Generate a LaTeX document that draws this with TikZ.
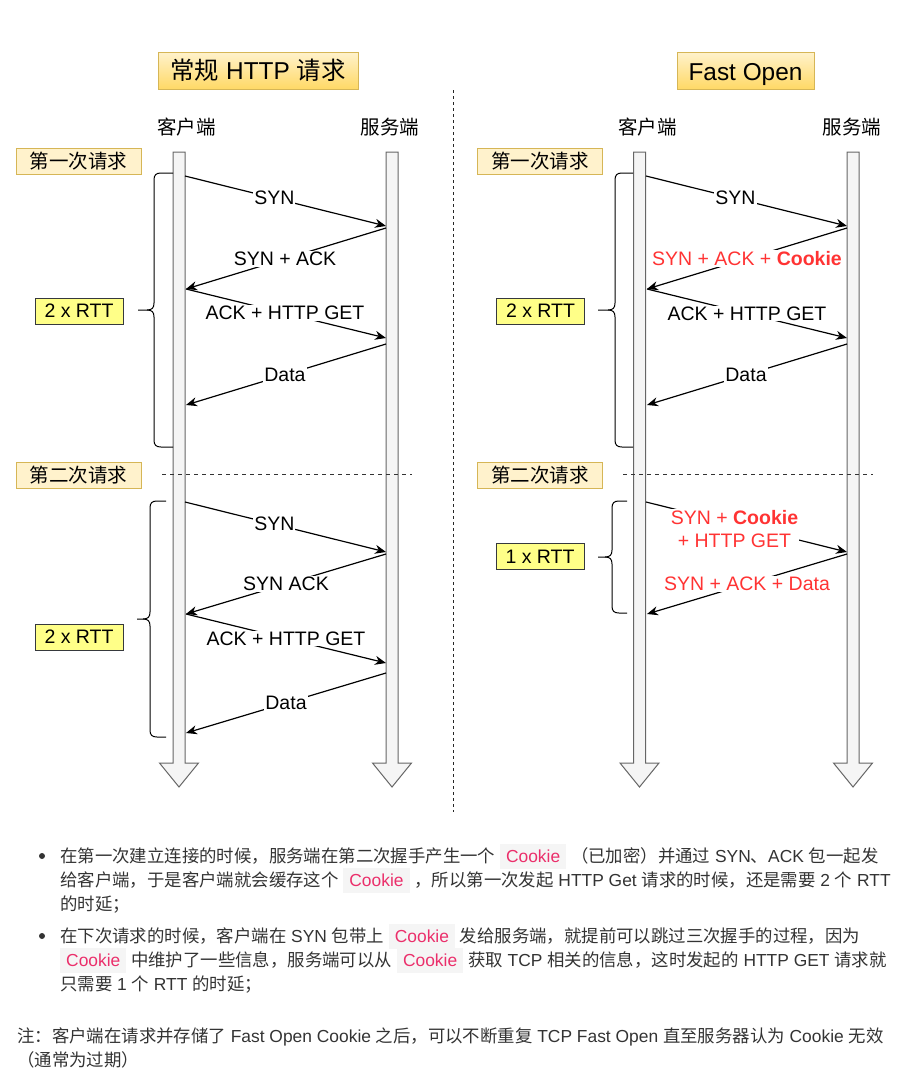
\documentclass[tikz,border=0pt]{standalone}
\usepackage{fontspec}
\setmainfont{Liberation Sans}
\newfontfamily\cjk{Noto Sans CJK SC}
\usetikzlibrary{arrows.meta}
\definecolor{barfill}{HTML}{F5F5F5}
\definecolor{barline}{HTML}{666666}
\definecolor{tfill}{HTML}{FFF2CC}
\definecolor{tgrad}{HTML}{FFD966}
\definecolor{tline}{HTML}{D6B656}
\definecolor{rttfill}{HTML}{FFFF88}
\definecolor{rttline}{HTML}{36393D}
\definecolor{redtxt}{HTML}{FF3333}
\definecolor{codepink}{HTML}{EB2F6B}
\definecolor{codebg}{HTML}{F5F5F5}
\definecolor{bodytext}{HTML}{333333}
\newcommand\flbl{\fontsize{19.5}{23}\selectfont}
\newcommand\fttl{\fontsize{24.4}{29}\selectfont}
\newcommand\fbody{\fontsize{17.4}{24}\selectfont}
\newcommand\zh[1]{{\cjk #1}}
\newcommand\ck{{\setlength{\fboxsep}{0pt}\colorbox{codebg}{\hspace{6pt}\rule[-7pt]{0pt}{25pt}\textcolor{codepink}{Cookie}\hspace{6pt}}}}
\newcommand\lifebar[3]{%
  \draw[bar] ({#1-6},#2) -- ({#1+6},#2) -- ({#1+6},#3) -- ({#1+19.5},#3) -- (#1,{#3+24}) -- ({#1-19.5},#3) -- ({#1-6},#3) -- cycle;}
\newcommand\cbrace[5]{% #1 right x, #2 vertical x, #3 tip x, #4 top y, #5 bottom y
  \draw[bracestyle] (#1,#4) -- ({#2+7},#4) .. controls ({#2+2},#4) and (#2,{#4+2}) .. (#2,{#4+7})
    -- (#2,{(#4+#5)/2-7}) .. controls (#2,{(#4+#5)/2-2}) and ({#2-2},{(#4+#5)/2}) .. ({#2-7},{(#4+#5)/2})
    -- (#3,{(#4+#5)/2});
  \draw[bracestyle] ({#2-7},{(#4+#5)/2}) .. controls ({#2-2},{(#4+#5)/2}) and (#2,{(#4+#5)/2+2}) .. (#2,{(#4+#5)/2+7})
    -- (#2,{#5-7}) .. controls (#2,{#5-2}) and ({#2+2},#5) .. ({#2+7},#5) -- (#1,#5);}
\begin{document}
\begin{tikzpicture}[x=1pt,y=-1pt,
  title/.style={draw=tline, line width=1pt, top color=tfill, bottom color=tgrad, minimum height=37pt, inner sep=0pt, font=\fttl},
  reqbox/.style={draw=tline, line width=1pt, fill=tfill, minimum width=125pt, minimum height=26pt, inner sep=0pt, font=\flbl\cjk},
  rtt/.style={draw=rttline, line width=1pt, fill=rttfill, minimum width=88pt, minimum height=26pt, inner sep=0pt, font=\flbl},
  role/.style={font=\flbl\cjk, inner sep=0pt},
  bar/.style={draw=barline, fill=barfill, line width=1pt},
  bracestyle/.style={draw=black, line width=1pt},
  msg/.style={draw=black, line width=1.2pt, -{Stealth[length=11pt,width=9pt,inset=3.5pt]}},
  lbl/.style={fill=white, inner xsep=1pt, inner ysep=1pt, font=\flbl, text=black},
  rlbl/.style={lbl, text=redtxt, align=center},
  sep/.style={draw=black!80, line width=1pt, dash pattern=on 4pt off 4pt},
  body/.style={anchor=base west, inner sep=0pt, text=bodytext, font=\fbody},
]
\useasboundingbox (0,0) rectangle (913,1079);

% titles
\node[title, minimum width=200pt] (t1) at (258,70.5) {\zh{常规} HTTP \zh{请求}};
\node[title, minimum width=137pt, text depth=0pt, yshift=0pt] (t2) at (745.5,70.5) {\raisebox{-2pt}{Fast Open}};

% divider
\coordinate (d1) at (453,90);
\coordinate (d2) at (453,812);
\draw[black!85, line width=1pt, dash pattern=on 3pt off 3pt] (d1) -- (d2);

% roles
\node[role] (lc) at (186.5,127) {客户端};
\node[role] (ls) at (390,127) {服务端};
\node[role] (rc) at (647.5,127) {客户端};
\node[role] (rs) at (852,127) {服务端};

% lifelines
\lifebar{179}{152}{763}
\lifebar{392}{152}{763}
\lifebar{639.5}{152}{763}
\lifebar{853}{152}{763}

% request boxes
\node[reqbox] (q1l) at (78.5,161) {第一次请求};
\node[reqbox] (q2l) at (78.5,475.5) {第二次请求};
\node[reqbox] (q1r) at (540,161) {第一次请求};
\node[reqbox] (q2r) at (540,475.5) {第二次请求};

% separators
\coordinate (s1a) at (162,474); \coordinate (s1b) at (412,474);
\coordinate (s2a) at (623,474); \coordinate (s2b) at (873,474);
\draw[sep] (s1a) -- (s1b);
\draw[sep] (s2a) -- (s2b);

% braces
\cbrace{173}{154}{138}{173}{447}
\cbrace{166}{150}{137}{501}{737}
\cbrace{633}{615}{598}{173}{447}
\cbrace{627}{612}{598}{501}{613}

% RTT boxes
\node[rtt] (r1) at (79,311) {2 x RTT};
\node[rtt] (r2) at (79,637) {2 x RTT};
\node[rtt] (r3) at (540.5,311) {2 x RTT};
\node[rtt] (r4) at (540,556.5) {1 x RTT};

% left, first request
\coordinate (la1) at (185,176);  \coordinate (lb1) at (386,226);
\coordinate (lb2) at (386,228);  \coordinate (la2) at (186,289);
\coordinate (la3) at (186,289);  \coordinate (lb3) at (386,338);
\coordinate (lb4) at (386,344);  \coordinate (la4) at (186,405);
\draw[msg] (la1) -- node[lbl, pos=.445] (m1) {SYN} (lb1);
\draw[msg] (lb2) -- node[lbl, pos=.505] (m2) {SYN + ACK} (la2);
\draw[msg] (la3) -- node[lbl, pos=.495] (m3) {ACK + HTTP GET} (lb3);
\draw[msg] (lb4) -- node[lbl, pos=.505] (m4) {Data} (la4);

% left, second request
\coordinate (la5) at (185,502);  \coordinate (lb5) at (386,552);
\coordinate (lb6) at (386,554);  \coordinate (la6) at (186,614);
\coordinate (la7) at (186,614);  \coordinate (lb7) at (386,663);
\coordinate (lb8) at (386,673);  \coordinate (la8) at (186,733);
\draw[msg] (la5) -- node[lbl, pos=.445] (m5) {SYN} (lb5);
\draw[msg] (lb6) -- node[lbl, pos=.5] (m6) {SYN ACK} (la6);
\draw[msg] (la7) -- node[lbl, pos=.5] (m7) {ACK + HTTP GET} (lb7);
\draw[msg] (lb8) -- node[lbl, pos=.5] (m8) {Data} (la8);

% right, first request
\coordinate (ra1) at (646,176);  \coordinate (rb1) at (847,226);
\coordinate (rb2) at (847,228);  \coordinate (ra2) at (647,289);
\coordinate (ra3) at (647,289);  \coordinate (rb3) at (847,338);
\coordinate (rb4) at (847,344);  \coordinate (ra4) at (647,405);
\draw[msg] (ra1) -- node[lbl, pos=.445] (n1) {SYN} (rb1);
\draw[msg] (rb2) -- node[rlbl, pos=.5] (n2) {SYN + ACK + \textbf{Cookie}} (ra2);
\draw[msg] (ra3) -- node[lbl, pos=.5] (n3) {ACK + HTTP GET} (rb3);
\draw[msg] (rb4) -- node[lbl, pos=.505] (n4) {Data} (ra4);

% right, second request
\coordinate (ra5) at (646,502);  \coordinate (rb5) at (847,552);
\coordinate (rb6) at (847,554);  \coordinate (ra6) at (647,614);
\draw[msg] (ra5) -- node[rlbl, pos=.44, yshift=-5pt] (n5) {SYN + \textbf{Cookie}\\+ HTTP GET} (rb5);
\draw[msg] (rb6) -- node[rlbl, pos=.5] (n6) {SYN + ACK + Data} (ra6);

% bottom text
\fill[bodytext] (42,856) circle (3pt);
\fill[bodytext] (42,936) circle (3pt);
\node[body] (p1) at (60,862) {\zh{在第一次建立连接的时候，服务端在第二次握手产生一个} \ck\ \zh{（已加密）并通过} SYN\zh{、}ACK \zh{包一起发}};
\node[body] (p2) at (60,886) {\zh{给客户端，于是客户端就会缓存这个} \ck\ \zh{，所以第一次发起} HTTP Get \zh{请求的时候，还是需要} 2 \zh{个} RTT};
\node[body] (p3) at (60,910) {\zh{的时延；}};
\node[body] (p4) at (60,942) {\zh{在下次请求的时候，客户端在} SYN \zh{包带上} \ck\ \zh{发给服务端，就提前可以跳过三次握手的过程，因为}};
\node[body] (p5) at (60,966) {\ck\ \zh{中维护了一些信息，服务端可以从} \ck\ \zh{获取} TCP \zh{相关的信息，这时发起的} HTTP GET \zh{请求就}};
\node[body] (p6) at (60,990) {\zh{只需要} 1 \zh{个} RTT \zh{的时延；}};
\node[body] (p7) at (17,1042) {\zh{注：客户端在请求并存储了} Fast Open Cookie \zh{之后，可以不断重复} TCP Fast Open \zh{直至服务器认为} Cookie \zh{无效}};
\node[body] (p8) at (17,1066) {\zh{（通常为过期）}};
\end{tikzpicture}
\end{document}
